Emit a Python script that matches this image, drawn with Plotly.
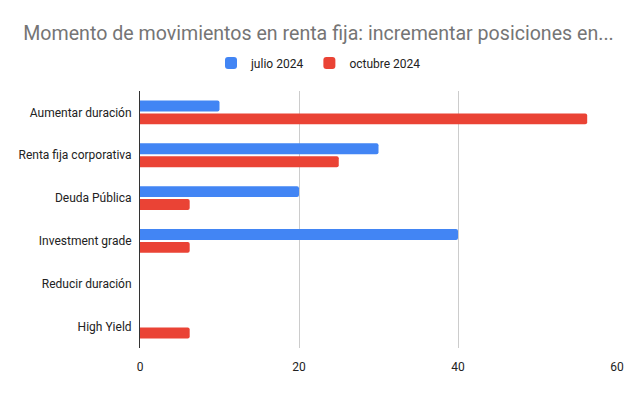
import plotly.graph_objects as go

categories = ["Aumentar duración", "Renta fija corporativa", "Deuda Pública",
              "Investment grade", "Reducir duración", "High Yield"]
julio_2024 = [10, 30, 20, 40, 0, 0]
octubre_2024 = [56.25, 25, 6.25, 6.25, 0, 6.25]
x_ticks = [0, 20, 40, 60]

fig = go.Figure()
fig.add_trace(go.Bar(y=categories, x=julio_2024, name="julio 2024", orientation="h",
                     marker=dict(color="#4285F4", line=dict(width=0))))
fig.add_trace(go.Bar(y=categories, x=octubre_2024, name="octubre 2024", orientation="h",
                     marker=dict(color="#EA4335", line=dict(width=0))))

fig.update_layout(
    width=637, height=395,
    paper_bgcolor="white", plot_bgcolor="white",
    margin=dict(l=140, r=20, t=91, b=47, autoexpand=False),
    barmode="group", bargap=0.4, bargroupgap=0.15, barcornerradius=2,
    font=dict(family="Roboto, Arial, sans-serif", size=12, color="#222222"),
    title=dict(text="Momento de movimientos en renta fija: incrementar posiciones en...",
               x=0.5, xref="container", xanchor="center", y=1 - 33 / 395, yref="container",
               yanchor="middle", font=dict(size=19.6, color="#757575")),
    legend=dict(orientation="h", x=0.5, xanchor="center", xref="container",
                y=1 - 63 / 395, yref="container", yanchor="middle",
                font=dict(size=12, color="#222222"), itemwidth=30),
    showlegend=True,
)
fig.update_xaxes(range=[0, 60], tickvals=x_ticks, showgrid=True, gridcolor="#cccccc",
                 zeroline=False, showline=False, ticks="", ticklabelstandoff=10,
                 tickfont=dict(size=12, color="#222222"))
fig.update_yaxes(autorange="reversed", showgrid=False, showline=True, linecolor="#333333",
                 linewidth=1, ticks="", ticklabelstandoff=5, tickfont=dict(size=12, color="#222222"))

fig.write_html("out.html", post_script="document.body.style.margin='0';",
               config={"displayModeBar": False})
